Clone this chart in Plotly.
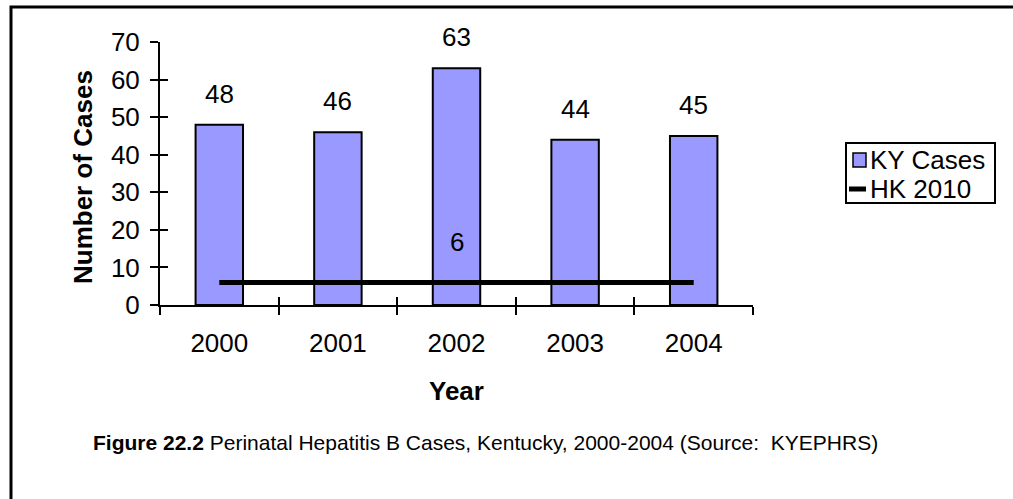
import plotly.graph_objects as go

years = ["2000", "2001", "2002", "2003", "2004"]
ky_cases = [48, 46, 63, 44, 45]
hk_2010 = [6, 6, 6, 6, 6]
y_ticks = [0, 10, 20, 30, 40, 50, 60, 70]

W, H = 1013, 499
FONT = "Liberation Sans, Arial, sans-serif"
FS = 26

def px(x):
    return x / W

def py(y):
    return 1 - y / H

x0, x1 = 160, 753
y_top, y_bot = 42, 305

fig = go.Figure()
fig.add_trace(go.Bar(
    x=years, y=ky_cases, name="KY Cases",
    marker=dict(color="#9999FF", line=dict(color="black", width=2)),
    showlegend=False, hoverinfo="skip",
))
fig.add_trace(go.Scatter(
    x=years, y=hk_2010, name="HK 2010", mode="lines",
    line=dict(color="black", width=5), showlegend=False, hoverinfo="skip",
))

# data labels (category index positions)
for i, v in enumerate(ky_cases):
    fig.add_annotation(x=i, y=v, xref="x", yref="y", text=str(v), showarrow=False,
                       xanchor="center", yanchor="bottom", yshift=14,
                       font=dict(size=FS, color="black", family=FONT))
fig.add_annotation(x=2, y=hk_2010[2], xref="x", yref="y", text=str(hk_2010[2]),
                   showarrow=False, xanchor="center", yanchor="bottom", yshift=23,
                   font=dict(size=FS, color="black", family=FONT))

fig.update_layout(
    width=W, height=H, margin=dict(l=0, r=0, t=0, b=0, autoexpand=False),
    paper_bgcolor="white", plot_bgcolor="white",
    font=dict(family=FONT, size=FS, color="black"),
    bargap=0.6,
    xaxis=dict(domain=[px(x0), px(x1)], type="category", range=[-0.5, 4.5],
               automargin=False,
               showline=True, linecolor="black", linewidth=2,
               ticks="outside", ticklen=8, tickwidth=2, tickcolor="black",
               tickson="boundaries", showgrid=False, zeroline=False,
               tickfont=dict(size=FS, family=FONT), ticklabelstandoff=14),
    yaxis=dict(domain=[py(y_bot), py(y_top)], range=[0, 70], automargin=False,
               tickvals=y_ticks, showline=True, linecolor="black", linewidth=2,
               ticks="outside", ticklen=8, tickwidth=2, tickcolor="black",
               showgrid=False, zeroline=False,
               tickfont=dict(size=FS, family=FONT), ticklabelstandoff=5),
    xaxis2=dict(domain=[px(x0), px(x1)], range=[-0.5, 4.5], overlaying="x",
                anchor="y", tickvals=[-0.5, 0.5, 1.5, 2.5, 3.5, 4.5], automargin=False,
                ticks="inside", ticklen=8, tickwidth=2, tickcolor="black",
                showticklabels=False, showgrid=False, zeroline=False, showline=False,
                side="bottom"),
    yaxis2=dict(domain=[py(y_bot), py(y_top)], range=[0, 70], overlaying="y",
                anchor="x", tickvals=y_ticks, ticks="inside", ticklen=8, automargin=False,
                tickwidth=2, tickcolor="black", showticklabels=False,
                showgrid=False, zeroline=False, showline=False, side="left"),
)
# invisible trace to activate overlay axes
fig.add_trace(go.Scatter(x=[0], y=[0], xaxis="x2", yaxis="y2", mode="markers",
                         marker=dict(opacity=0), showlegend=False, hoverinfo="skip"))

# axis titles
fig.add_annotation(xref="paper", yref="paper", x=px(83), y=py(177),
                   xanchor="center", yanchor="middle",
                   text="<b>Number of Cases</b>", textangle=-90, showarrow=False,
                   font=dict(size=FS, family=FONT, color="black"))
fig.add_annotation(xref="paper", yref="paper", x=px(456), y=py(391),
                   xanchor="center", yanchor="middle",
                   text="<b>Year</b>", showarrow=False,
                   font=dict(size=FS, family=FONT, color="black"))
# caption
fig.add_annotation(xref="paper", yref="paper", x=px(91), y=py(442),
                   xanchor="left", yanchor="middle",
                   text="<b>Figure 22.2</b> Perinatal Hepatitis B Cases, Kentucky, 2000-2004 (Source:  KYEPHRS)",
                   showarrow=False, font=dict(size=21, family=FONT, color="black"))

# outer frame
fig.add_shape(type="rect", xref="paper", yref="paper", x0=px(11), x1=px(1030),
              y0=py(520), y1=py(7), line=dict(color="black", width=3))

# legend (manual)
fig.add_shape(type="rect", xref="paper", yref="paper", x0=px(846), x1=px(995),
              y0=py(203), y1=py(143), line=dict(color="black", width=2),
              fillcolor="white")
fig.add_shape(type="rect", xref="paper", yref="paper", x0=px(853), x1=px(866),
              y0=py(167), y1=py(153), line=dict(color="black", width=1.5),
              fillcolor="#9999FF")
fig.add_shape(type="line", xref="paper", yref="paper", x0=px(849), x1=px(866),
              y0=py(189), y1=py(189), line=dict(color="black", width=5))
fig.add_annotation(xref="paper", yref="paper", x=px(868), y=py(160),
                   xanchor="left", yanchor="middle",
                   text="KY Cases", showarrow=False,
                   font=dict(size=FS, family=FONT, color="black"))
fig.add_annotation(xref="paper", yref="paper", x=px(868), y=py(189),
                   xanchor="left", yanchor="middle",
                   text="HK 2010", showarrow=False,
                   font=dict(size=FS, family=FONT, color="black"))

fig.write_html("out.html")
